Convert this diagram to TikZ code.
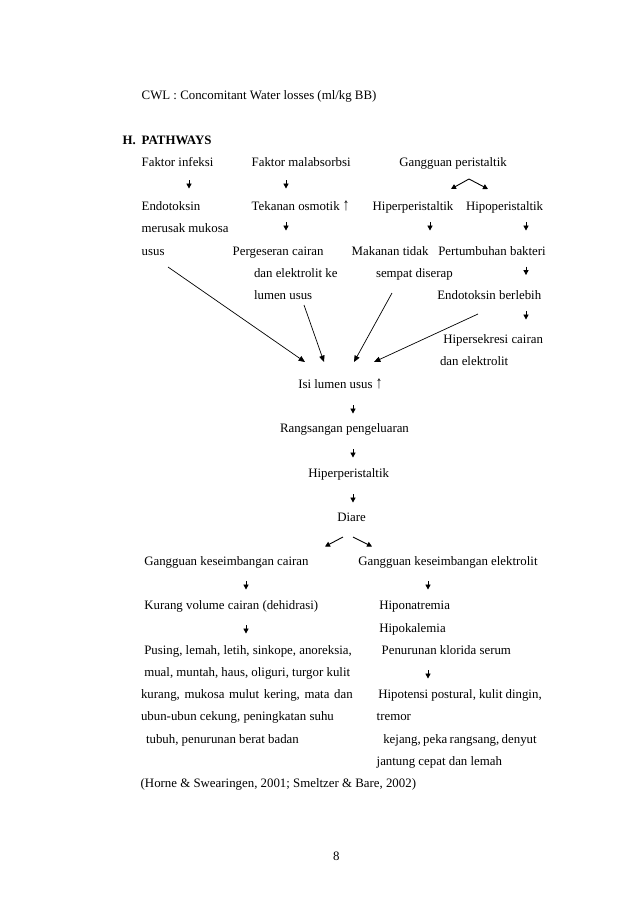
\documentclass[tikz,border=0pt]{standalone}
\usepackage{fontspec}
\usepackage{graphicx}
\setmainfont{Liberation Serif}
\usetikzlibrary{arrows.meta}
\newcommand{\uparr}{\scalebox{1}[1.35]{↑}}
\newcommand{\jline}[2]{\makebox[#1][l]{#2}}
\begin{document}
\begin{tikzpicture}[x=1pt,y=-1pt,
  t/.style={anchor=base west,inner sep=0pt,outer sep=0pt,font=\fontsize{12.86}{15}\selectfont},
  sarr/.style={line width=0.9pt,-{Triangle[width=5.2pt,length=5pt]}},
  larr/.style={line width=0.7pt,-{Triangle[width=5.4pt,length=6.4pt]}}]
\useasboundingbox (0,0) rectangle (638,903);
\fill[white] (0,0) rectangle (638,903);
% texts
\node[t] (cwl) at (141.7,99) {CWL : Concomitant Water losses (ml/kg BB)};
\node[t,font=\fontsize{12.86}{15}\selectfont\bfseries] (hdr) at (122.7,144) {\makebox[19pt][l]{H.}PATHWAYS};
\node[t] (fi) at (141.7,166) {Faktor infeksi};
\node[t] (fm) at (251.7,166) {Faktor malabsorbsi};
\node[t] (gp) at (399.3,166) {Gangguan peristaltik};
\node[t] (endo1) at (141.7,210.5) {Endotoksin};
\node[t] (tek) at (251.7,210.5) {Tekanan osmotik \uparr};
\node[t] (hiper) at (372.7,210.5) {Hiperperistaltik};
\node[t] (hipo) at (466,210.5) {Hipoperistaltik};
\node[t] (endo2) at (141.7,232.7) {merusak mukosa};
\node[t] (endo3) at (141.7,255) {usus};
\node[t] (perg1) at (232.7,255) {Pergeseran cairan};
\node[t] (mak1) at (351.7,255) {Makanan tidak};
\node[t] (bak) at (438.3,255) {Pertumbuhan bakteri};
\node[t] (perg2) at (254,277) {dan elektrolit ke};
\node[t] (mak2) at (376,277) {sempat diserap};
\node[t] (perg3) at (254,299) {lumen usus};
\node[t] (eb) at (437.3,299) {Endotoksin berlebih};
\node[t] (hs1) at (443.3,343) {Hipersekresi cairan};
\node[t] (hs2) at (440,365.6) {dan elektrolit};
\node[t] (isi) at (298.3,388) {Isi lumen usus \uparr};
\node[t] (rang) at (280,432.4) {Rangsangan pengeluaran};
\node[t] (hp) at (308.3,477) {Hiperperistaltik};
\node[t] (diare) at (337.3,521) {Diare};
\node[t] (gkc) at (144.3,565) {Gangguan keseimbangan cairan};
\node[t] (gke) at (358.3,565) {Gangguan keseimbangan elektrolit};
\node[t] (kvc) at (144.3,609) {Kurang volume cairan (dehidrasi)};
\node[t] (hna) at (379.3,609) {Hiponatremia};
\node[t] (hka) at (379.3,632) {Hipokalemia};
\node[t] (s1) at (144.3,654) {Pusing, lemah, letih, sinkope, anoreksia,};
\node[t] (pks) at (381.7,654) {Penurunan klorida serum};
\node[t] (s2) at (144.3,676) {mual, muntah, haus, oliguri, turgor kulit};
\node[t] (s3) at (141,698) {\jline{211.7pt}{kurang,\hfill mukosa\hfill mulut\hfill kering,\hfill mata\hfill dan}};
\node[t] (hpt1) at (378.3,698) {\jline{163.4pt}{Hipotensi\hfill postural,\hfill kulit\hfill dingin,}};
\node[t] (s4) at (141,720.7) {ubun-ubun cekung, peningkatan suhu};
\node[t] (hpt2) at (376.7,720.7) {tremor};
\node[t] (s5) at (146,743) {tubuh, penurunan berat badan};
\node[t] (kej1) at (383.3,743) {\jline{153.4pt}{kejang,\hfill peka\hfill rangsang,\hfill denyut}};
\node[t] (kej2) at (376.7,765) {jantung cepat dan lemah};
\node[t] (ref) at (140.7,787) {(Horne \& Swearingen, 2001; Smeltzer \& Bare, 2002)};
\node[t] (pg) at (333,860.7) {8};
% coordinates for small arrows
\coordinate (a1s) at (189,180);   \coordinate (a1e) at (189,188.5);
\coordinate (a2s) at (286,180);   \coordinate (a2e) at (286,188.5);
\coordinate (vp)  at (469,179);   \coordinate (vl) at (451,189); \coordinate (vr) at (488,189);
\coordinate (a3s) at (286,222);   \coordinate (a3e) at (286,230.5);
\coordinate (a4s) at (430,222);   \coordinate (a4e) at (430,230.5);
\coordinate (a5s) at (526,222);   \coordinate (a5e) at (526,230.5);
\coordinate (a6s) at (526,266.5); \coordinate (a6e) at (526,275);
\coordinate (a7s) at (526,311);   \coordinate (a7e) at (526,319.5);
\coordinate (a8s) at (353,405);   \coordinate (a8e) at (353,413.5);
\coordinate (a9s) at (353,449);   \coordinate (a9e) at (353,457.5);
\coordinate (a10s) at (353,494);  \coordinate (a10e) at (353,502.5);
\coordinate (dl0) at (343,537);   \coordinate (dl1) at (325,546.5);
\coordinate (dr0) at (353,537);   \coordinate (dr1) at (372,546.5);
\coordinate (a11s) at (246,581);  \coordinate (a11e) at (246,589.5);
\coordinate (a12s) at (428,581);  \coordinate (a12e) at (428,589.5);
\coordinate (a13s) at (246,625);  \coordinate (a13e) at (246,633.5);
\coordinate (a14s) at (428,670);  \coordinate (a14e) at (428,678.5);
% long arrows
\coordinate (l1s) at (168,267);   \coordinate (l1e) at (305,362);
\coordinate (l2s) at (304,305);   \coordinate (l2e) at (324,362);
\coordinate (l3s) at (392,293);   \coordinate (l3e) at (354,362);
\coordinate (l4s) at (478,314);   \coordinate (l4e) at (374,362);
\foreach \s/\e in {a1s/a1e,a2s/a2e,vp/vl,vp/vr,a3s/a3e,a4s/a4e,a5s/a5e,a6s/a6e,a7s/a7e,a8s/a8e,a9s/a9e,a10s/a10e,dl0/dl1,dr0/dr1,a11s/a11e,a12s/a12e,a13s/a13e,a14s/a14e}
  \draw[sarr] (\s) -- (\e);
\foreach \s/\e in {l1s/l1e,l2s/l2e,l3s/l3e,l4s/l4e}
  \draw[larr] (\s) -- (\e);
\end{tikzpicture}
\end{document}
